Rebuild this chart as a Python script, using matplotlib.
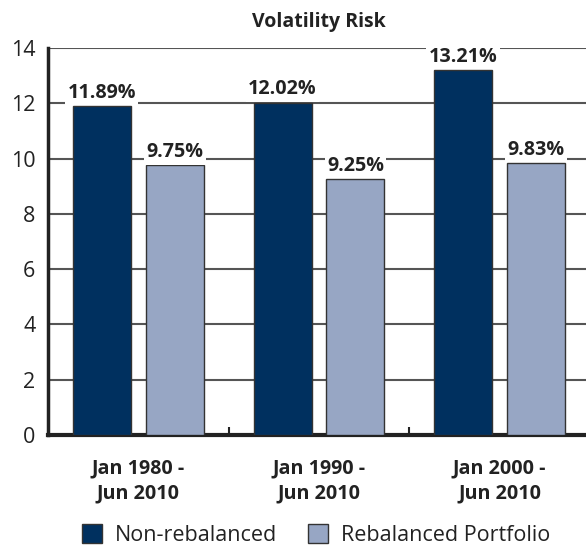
import matplotlib
matplotlib.use("Agg")
import matplotlib.pyplot as plt
from matplotlib.patches import Patch
import numpy as np

plt.rcParams['font.family'] = ['Open Sans', 'DejaVu Sans']

title = "Volatility Risk"
categories = ["Jan 1980 -\nJun 2010", "Jan 1990 -\nJun 2010", "Jan 2000 -\nJun 2010"]
series_names = ["Non-rebalanced", "Rebalanced Portfolio"]
non_rebalanced = [11.89, 12.02, 13.21]
rebalanced = [9.75, 9.25, 9.83]
yticks = [0, 2, 4, 6, 8, 10, 12, 14]

dark = "#00305f"
light = "#97a6c4"
edge = "#333333"
txt = "#222222"

W, H = 586, 548
fig = plt.figure(figsize=(W / 100, H / 100), dpi=100)
ax = fig.add_axes([48 / W, (H - 435) / H, (590 - 48) / W, (435 - 48) / H])

x = np.arange(len(categories))
bw = 0.321
off = 0.202
b1 = ax.bar(x - off, non_rebalanced, bw, color=dark, edgecolor=edge, linewidth=1.0, zorder=3, label=series_names[0])
b2 = ax.bar(x + off, rebalanced, bw, color=light, edgecolor=edge, linewidth=1.0, zorder=3, label=series_names[1])

for bars, vals in ((b1, non_rebalanced), (b2, rebalanced)):
    for r, v in zip(bars, vals):
        ax.annotate(f"{v:.2f}%", (r.get_x() + r.get_width() / 2, v),
                    xytext=(0, 6), textcoords="offset points",
                    ha="center", va="baseline", fontsize=14.2, fontweight="bold",
                    color=txt, zorder=4,
                    bbox=dict(boxstyle="square,pad=0.12", fc="white", ec="none"))

ax.set_xlim(-0.5, 2.5)
ax.set_ylim(0, 14)
ax.set_yticks(yticks)
ax.set_yticklabels([str(t) for t in yticks], fontsize=15.5, color=txt)
ax.tick_params(axis="y", length=0, pad=9)

ax.set_xticks([0.5, 1.5])
ax.set_xticklabels([])
ax.tick_params(axis="x", direction="in", length=6, width=1.5, color=txt)
for i, c in enumerate(categories):
    ax.text(i, -0.86, c, ha="center", va="top", fontsize=14.2, fontweight="bold",
            color=txt, linespacing=1.3, transform=ax.transData, clip_on=False)

ax.grid(axis="y", color="#555555", linewidth=1.5, zorder=0)
ax.set_axisbelow(True)
for s in ("top", "right"):
    ax.spines[s].set_visible(False)
ax.spines["left"].set_linewidth(2.5)
ax.spines["left"].set_color(txt)
ax.spines["bottom"].set_linewidth(3)
ax.spines["bottom"].set_color(txt)

fig.text((48 + 590) / 2 / W, 1 - 22 / H, title, ha="center", va="center",
         fontsize=14, fontweight="bold", color=txt)

handles = [Patch(facecolor=dark, edgecolor=edge, linewidth=1.0),
           Patch(facecolor=light, edgecolor=edge, linewidth=1.0)]
fig.legend(handles, series_names, loc="center", bbox_to_anchor=(316 / W, 1 - 535 / H),
           ncol=2, frameon=False, fontsize=15.5, handlelength=0.95, handleheight=0.95,
           handletextpad=0.6, columnspacing=1.4, labelcolor=txt,
           borderpad=0.0, borderaxespad=0.0)

fig.savefig("out.png", dpi=100, facecolor="white")
